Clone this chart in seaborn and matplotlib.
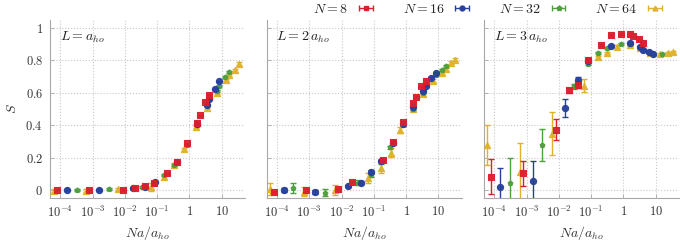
import numpy as np
import pandas as pd
import matplotlib
matplotlib.use("Agg")
import matplotlib.pyplot as plt
import seaborn as sns

# ---------------- data ----------------
panel_labels = [r"$L = a_{ho}$", r"$L = 2\,a_{ho}$", r"$L = 3\,a_{ho}$"]
N_values = [8, 16, 32, 64]
x_ticks = [1e-4, 1e-3, 1e-2, 1e-1, 1, 10]
x_tick_labels = [r"$10^{-4}$", r"$10^{-3}$", r"$10^{-2}$", r"$10^{-1}$", r"$1$", r"$10$"]
y_ticks = [0, 0.2, 0.4, 0.6, 0.8, 1.0]
y_tick_labels = [r"$0$", r"$0.2$", r"$0.4$", r"$0.6$", r"$0.8$", r"$1$"]

# Panel 1: L = a_ho   (log10 of N a / a_ho, S, error)
L1_N8_logx = [-4.10, -3.10, -2.07, -1.69, -1.38, -1.10, -0.70, -0.40, -0.08, 0.22, 0.33, 0.49, 0.62]
L1_N8_S    = [0.0, 0.0, 0.0, 0.015, 0.025, 0.04, 0.103, 0.17, 0.289, 0.416, 0.46, 0.546, 0.588]
L1_N8_err  = [0.004] * 13
L1_N16_logx = [-3.79, -2.79, -1.76, -1.38, -1.08, -0.39, 0.23, 0.53, 0.62, 0.80, 0.92]
L1_N16_S    = [0.0, 0.0, 0.01, 0.02, 0.05, 0.175, 0.41, 0.526, 0.561, 0.623, 0.67]
L1_N16_err  = [0.004] * 11
L1_N32_logx = [-3.49, -2.48, -1.46, -1.11, -0.80, -0.49, -0.08, 0.23, 0.53, 0.84, 0.92, 1.11, 1.23]
L1_N32_S    = [0.0, 0.005, 0.02, 0.045, 0.09, 0.155, 0.28, 0.40, 0.525, 0.61, 0.643, 0.697, 0.728]
L1_N32_err  = [0.006] * 13
L1_N64_logx = [-4.20, -3.20, -2.20, -1.18, -0.80, -0.49, -0.18, 0.21, 0.53, 0.84, 1.13, 1.23, 1.42, 1.52]
L1_N64_S    = [-0.005, -0.005, 0.005, 0.02, 0.08, 0.155, 0.25, 0.39, 0.505, 0.60, 0.68, 0.711, 0.738, 0.78]
L1_N64_err  = [0.008, 0.008, 0.01, 0.025, 0.012, 0.01, 0.01, 0.01, 0.008, 0.008, 0.008, 0.008, 0.008, 0.008]

# Panel 2: L = 2 a_ho
L2_N8_logx = [-4.10, -3.10, -2.10, -1.69, -0.71, -0.41, -0.10, 0.21, 0.31, 0.47, 0.62]
L2_N8_S    = [-0.01, 0.0, 0.006, 0.047, 0.186, 0.295, 0.422, 0.54, 0.573, 0.639, 0.67]
L2_N8_err  = [0.006] * 11
L2_N16_logx = [-3.79, -2.81, -1.79, -1.40, -1.10, -0.79, -0.41, -0.10, 0.21, 0.51, 0.62, 0.78, 0.92]
L2_N16_S    = [0.0, -0.01, 0.025, 0.045, 0.113, 0.18, 0.289, 0.41, 0.51, 0.614, 0.643, 0.69, 0.72]
L2_N16_err  = [0.01, 0.012, 0.008, 0.01, 0.008, 0.008, 0.006, 0.006, 0.006, 0.006, 0.006, 0.006, 0.006]
L2_N32_logx = [-3.49, -2.50, -1.49, -1.10, -0.79, -0.51, -0.10, 0.21, 0.51, 0.92, 1.11, 1.23]
L2_N32_S    = [0.01, -0.017, 0.045, 0.093, 0.175, 0.264, 0.40, 0.50, 0.60, 0.71, 0.738, 0.763]
L2_N32_err  = [0.03, 0.022, 0.015, 0.012, 0.012, 0.01, 0.008, 0.008, 0.006, 0.006, 0.006, 0.006]
L2_N64_logx = [-4.22, -3.18, -2.19, -1.18, -0.79, -0.48, -0.20, 0.21, 0.51, 0.82, 1.11, 1.23, 1.40, 1.52]
L2_N64_S    = [0.004, -0.01, 0.0, 0.076, 0.134, 0.231, 0.371, 0.50, 0.59, 0.674, 0.725, 0.745, 0.787, 0.804]
L2_N64_err  = [0.036, 0.03, 0.03, 0.03, 0.03, 0.025, 0.02, 0.01, 0.01, 0.01, 0.01, 0.01, 0.008, 0.008]

# Panel 3: L = 3 a_ho
L3_N8_logx = [-4.11, -3.11, -2.10, -1.70, -1.42, -1.11, -0.70, -0.39, -0.08, 0.20, 0.30, 0.48, 0.60]
L3_N8_S    = [0.082, 0.102, 0.373, 0.615, 0.65, 0.805, 0.897, 0.957, 0.963, 0.963, 0.948, 0.932, 0.905]
L3_N8_err  = [0.107, 0.077, 0.064, 0.015, 0.02, 0.01, 0.006, 0.006, 0.006, 0.006, 0.006, 0.006, 0.006]
L3_N16_logx = [-3.81, -2.80, -1.80, -1.42, -1.11, -0.39, 0.20, 0.51, 0.60, 0.79, 0.91]
L3_N16_S    = [0.016, 0.055, 0.506, 0.676, 0.795, 0.891, 0.905, 0.885, 0.867, 0.85, 0.84]
L3_N16_err  = [0.12, 0.123, 0.053, 0.02, 0.01, 0.006, 0.006, 0.006, 0.006, 0.006, 0.006]
L3_N32_logx = [-3.50, -2.51, -1.52, -1.11, -0.80, -0.50, -0.08, 0.20, 0.51, 0.89, 1.20]
L3_N32_S    = [0.041, 0.277, 0.64, 0.78, 0.846, 0.877, 0.90, 0.90, 0.88, 0.846, 0.84]
L3_N32_err  = [0.154, 0.098, 0.015, 0.01, 0.006, 0.006, 0.006, 0.006, 0.006, 0.006, 0.006]
L3_N64_logx = [-4.22, -3.21, -2.21, -1.21, -0.80, -0.50, -0.19, 0.20, 0.51, 0.82, 1.12, 1.38, 1.53]
L3_N64_S    = [0.277, 0.113, 0.348, 0.645, 0.82, 0.846, 0.885, 0.893, 0.875, 0.846, 0.84, 0.846, 0.854]
L3_N64_err  = [0.125, 0.174, 0.133, 0.04, 0.01, 0.008, 0.008, 0.006, 0.006, 0.006, 0.006, 0.006, 0.006]

series = {
    (0, 8): (L1_N8_logx, L1_N8_S, L1_N8_err),
    (0, 16): (L1_N16_logx, L1_N16_S, L1_N16_err),
    (0, 32): (L1_N32_logx, L1_N32_S, L1_N32_err),
    (0, 64): (L1_N64_logx, L1_N64_S, L1_N64_err),
    (1, 8): (L2_N8_logx, L2_N8_S, L2_N8_err),
    (1, 16): (L2_N16_logx, L2_N16_S, L2_N16_err),
    (1, 32): (L2_N32_logx, L2_N32_S, L2_N32_err),
    (1, 64): (L2_N64_logx, L2_N64_S, L2_N64_err),
    (2, 8): (L3_N8_logx, L3_N8_S, L3_N8_err),
    (2, 16): (L3_N16_logx, L3_N16_S, L3_N16_err),
    (2, 32): (L3_N32_logx, L3_N32_S, L3_N32_err),
    (2, 64): (L3_N64_logx, L3_N64_S, L3_N64_err),
}

rows = []
for (p, n), (lx, s, e) in series.items():
    for a, b, c in zip(lx, s, e):
        rows.append({"panel": p, "N": n, "x": 10.0 ** a, "S": b, "err": c})
df = pd.DataFrame(rows)

# ---------------- style ----------------
sns.set_theme(style="whitegrid")
plt.rcParams.update({
    "mathtext.fontset": "cm",
    "font.family": ["DejaVu Serif"],
    "grid.linestyle": ":",
    "grid.color": "#c8c8c8",
    "grid.linewidth": 0.8,
    "axes.edgecolor": "#a8a8a8",
    "axes.linewidth": 0.8,
})

colors = {8: "#dc1f2e", 16: "#26409c", 32: "#4e9f3d", 64: "#e0b22a"}
markers = {8: "s", 16: "o", 32: "p", 64: "^"}
msize = {8: 22, 16: 20, 32: 13, 64: 20}
draw_order = [64, 32, 16, 8]

fig = plt.figure(figsize=(6.8, 2.43), dpi=100)
lefts = [50 / 680, 266.7 / 680, 484 / 680]
axes = [fig.add_axes([l, 0.185, 195 / 680, 0.733]) for l in lefts]

for p, ax in enumerate(axes):
    sub = df[df.panel == p]
    for n in draw_order:
        d = sub[sub.N == n]
        ax.errorbar(d["x"], d["S"], yerr=d["err"], fmt="none", ecolor=colors[n],
                    elinewidth=1.0, capsize=2.0, capthick=1.0, zorder=2)
        sns.scatterplot(x=d["x"], y=d["S"], ax=ax, color=colors[n], marker=markers[n],
                        s=msize[n], edgecolor=colors[n], linewidth=0.8, alpha=0.95,
                        zorder=3, legend=False)
    ax.set_xscale("log")
    ax.set_xlim(10 ** -4.32, 10 ** 1.72)
    ax.set_ylim(-0.05, 1.05)
    ax.set_xticks(x_ticks)
    ax.set_xticklabels(x_tick_labels, fontsize=9, color="#333333")
    ax.xaxis.set_minor_locator(matplotlib.ticker.NullLocator())
    ax.set_yticks(y_ticks)
    if p == 0:
        ax.set_yticklabels(y_tick_labels, fontsize=9, color="#333333")
        ax.set_ylabel(r"$S$", fontsize=10, color="#333333", labelpad=5)
    else:
        ax.set_yticklabels([])
        ax.set_ylabel("")
    ax.set_xlabel(r"$Na/a_{ho}$", fontsize=10, color="#333333", labelpad=3)
    ax.tick_params(axis="both", direction="in", length=3, width=0.6, color="#a8a8a8",
                   pad=5, bottom=True, left=True)
    for side in ("top", "right"):
        ax.spines[side].set_visible(False)
    ax.text(0.05, 0.9, panel_labels[p], transform=ax.transAxes, fontsize=10,
            ha="left", va="center", color="#222222")
    ax.grid(True)

# legend with horizontal error-bar handles
handles = []
for n in N_values:
    h = axes[2].errorbar([np.nan], [np.nan], xerr=[1.0], fmt=markers[n], color=colors[n],
                         ms=3.5, capsize=2.0, elinewidth=1.0)
    handles.append(h)
fig.legend(handles, [rf"$N = {n}$" for n in N_values], ncol=4, loc="upper right",
           bbox_to_anchor=(0.995, 1.045), frameon=False, markerfirst=False,
           fontsize=10, handlelength=1.3, columnspacing=2.0, handletextpad=0.6)

fig.savefig("out.png", dpi=100)
